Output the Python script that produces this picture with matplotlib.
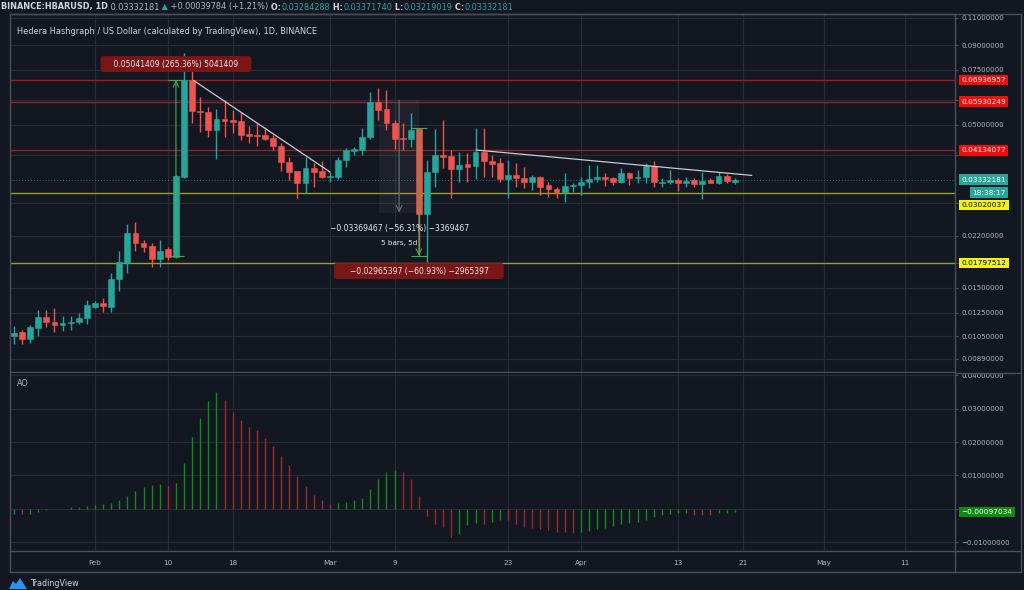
import matplotlib
matplotlib.use('Agg')
import matplotlib.pyplot as plt
import matplotlib.dates as mdates
import matplotlib.transforms as mtransforms
from matplotlib.lines import Line2D
from matplotlib.patches import Polygon
from matplotlib.ticker import FixedLocator, FixedFormatter, NullLocator
import numpy as np
import pandas as pd

# ---------------- data ----------------
dates = pd.date_range('2020-01-22', periods=90, freq='D')

opens = [0.01050, 0.01084, 0.01025, 0.01117, 0.01211, 0.01164, 0.01136, 0.01156, 0.01162, 0.01202,
         0.01304, 0.01340, 0.01304, 0.01604, 0.01805, 0.02241, 0.02082, 0.02041, 0.01850, 0.01992,
         0.01887, 0.03405, 0.06937, 0.05543, 0.05502, 0.04806, 0.05213, 0.05174, 0.05123, 0.04656,
         0.04633, 0.04621, 0.04541, 0.04281, 0.03794, 0.03550, 0.03241, 0.03639, 0.03550, 0.03388,
         0.03405, 0.03851, 0.04126, 0.04136, 0.04575, 0.05930, 0.05611, 0.05048, 0.04519, 0.04485,
         0.04829, 0.02579, 0.03525, 0.03996, 0.03966, 0.03594, 0.03729, 0.03684, 0.04095, 0.03823,
         0.03757, 0.03338, 0.03456, 0.03380, 0.03274, 0.03405, 0.03202, 0.03109, 0.03033, 0.03186,
         0.03194, 0.03266, 0.03338, 0.03405, 0.03380, 0.03282, 0.03507, 0.03380, 0.03397, 0.03684,
         0.03257, 0.03282, 0.03322, 0.03257, 0.03314, 0.03218, 0.03314, 0.03241, 0.03430, 0.03284288]
highs = [0.01130, 0.01098, 0.01139, 0.01278, 0.01278, 0.01288, 0.01217, 0.01217, 0.01248, 0.01370,
         0.01363, 0.01387, 0.01668, 0.01972, 0.02407, 0.02443, 0.02134, 0.02092, 0.02134, 0.02031,
         0.03447, 0.08505, 0.07577, 0.06117, 0.05709, 0.05611, 0.05997, 0.05570, 0.05502, 0.04950,
         0.05048, 0.04902, 0.04633, 0.04355, 0.03947, 0.03559, 0.03947, 0.03776, 0.03823, 0.03533,
         0.03947, 0.04197, 0.04249, 0.04866, 0.06378, 0.06536, 0.06457, 0.05174, 0.05048, 0.05435,
         0.04867, 0.03851, 0.04841, 0.05174, 0.04146, 0.04095, 0.04045, 0.04890, 0.04890, 0.03996,
         0.03899, 0.03851, 0.03757, 0.03666, 0.03447, 0.03422, 0.03282, 0.03163, 0.03490, 0.03257,
         0.03405, 0.03711, 0.03711, 0.03490, 0.03405, 0.03621, 0.03533, 0.03577, 0.03757, 0.03823,
         0.03363, 0.03577, 0.03363, 0.03405, 0.03363, 0.03533, 0.03380, 0.03533, 0.03473, 0.03371740]
lows = [0.00990, 0.00988, 0.00995, 0.01050, 0.01120, 0.01079, 0.01093, 0.01098, 0.01150, 0.01150,
        0.01295, 0.01257, 0.01257, 0.01468, 0.01668, 0.01972, 0.01958, 0.01752, 0.01752, 0.01841,
        0.01864, 0.03363, 0.05048, 0.04747, 0.04575, 0.03879, 0.04553, 0.04689, 0.04463, 0.04355,
        0.04270, 0.04463, 0.04146, 0.03559, 0.03322, 0.02902, 0.03011, 0.03163, 0.03363, 0.03282,
        0.03338, 0.03666, 0.03996, 0.03996, 0.04485, 0.05174, 0.04806, 0.04166, 0.04146, 0.04249,
        0.01901, 0.01818, 0.03163, 0.03621, 0.02902, 0.03282, 0.03282, 0.03338, 0.03405, 0.03405,
        0.03282, 0.02902, 0.03163, 0.03124, 0.03086, 0.02974, 0.02938, 0.02902, 0.02831, 0.03048,
        0.02974, 0.03124, 0.03282, 0.03178, 0.03202, 0.03241, 0.03202, 0.03241, 0.03241, 0.03163,
        0.03163, 0.03218, 0.03063, 0.03163, 0.03163, 0.02880, 0.03241, 0.03226, 0.03241, 0.03219019]
closes = [0.01076, 0.01025, 0.01125, 0.01211, 0.01167, 0.01136, 0.01159, 0.01164, 0.01199, 0.01320,
          0.01343, 0.01314, 0.01604, 0.01809, 0.02241, 0.02082, 0.02031, 0.01850, 0.01972, 0.01887,
          0.03422, 0.06937, 0.05543, 0.05489, 0.04806, 0.05200, 0.05148, 0.05086, 0.04645, 0.04610,
          0.04598, 0.04508, 0.04281, 0.03785, 0.03533, 0.03241, 0.03630, 0.03533, 0.03388, 0.03422,
          0.03851, 0.04136, 0.04166, 0.04575, 0.05930, 0.05570, 0.05048, 0.04508, 0.04485, 0.04818,
          0.02579, 0.03533, 0.03996, 0.03947, 0.03594, 0.03702, 0.03666, 0.04095, 0.03823, 0.03729,
          0.03338, 0.03456, 0.03363, 0.03274, 0.03405, 0.03163, 0.03101, 0.03033, 0.03186, 0.03210,
          0.03274, 0.03346, 0.03405, 0.03355, 0.03282, 0.03499, 0.03363, 0.03397, 0.03693, 0.03266,
          0.03282, 0.03322, 0.03257, 0.03306, 0.03218, 0.03306, 0.03257, 0.03422, 0.03306, 0.03332181]

ao_values = [-0.0015, -0.0016, -0.0015, -0.0010, -0.0005, -0.0002, -0.0001, 0.0004, 0.0006, 0.0008,
             0.0010, 0.0013, 0.0017, 0.0026, 0.0038, 0.0053, 0.0065, 0.0072, 0.0073, 0.0069,
             0.0076, 0.0138, 0.0214, 0.0271, 0.0322, 0.0351, 0.0326, 0.0290, 0.0265, 0.0245,
             0.0235, 0.0211, 0.0187, 0.0159, 0.0132, 0.0097, 0.0067, 0.0040, 0.0027, 0.0015,
             0.0016, 0.0019, 0.0025, 0.0031, 0.0060, 0.0089, 0.0109, 0.0115, 0.0109, 0.0090,
             0.0038, -0.0022, -0.0045, -0.0055, -0.0085, -0.0075, -0.0050, -0.0043, -0.0045, -0.0039,
             -0.0033, -0.0034, -0.0046, -0.0054, -0.0059, -0.0062, -0.0064, -0.0069, -0.0071, -0.0073,
             -0.0069, -0.0066, -0.0061, -0.0057, -0.0052, -0.0047, -0.0044, -0.0041, -0.0034, -0.0024,
             -0.0018, -0.0015, -0.0014, -0.0013, -0.0018, -0.0019, -0.0020, -0.0014, -0.0012, -0.00097034]

red_levels = [0.06936957, 0.05930249, 0.04134077]
yellow_levels = [0.03020037, 0.01797512]
last_price = 0.03332181
countdown = '18:38:17'

price_ticks = [0.11, 0.09, 0.075, 0.06, 0.05, 0.04, 0.028, 0.022, 0.018, 0.015, 0.0125, 0.0105, 0.0089]
price_tick_labels = ['0.11000000', '0.09000000', '0.07500000', '', '0.05000000', '', '', '0.02200000', '',
                     '0.01500000', '0.01250000', '0.01050000', '0.00890000']
ao_ticks = [0.04, 0.03, 0.02, 0.01, 0.0, -0.01]
ao_tick_labels = ['0.04000000', '0.03000000', '0.02000000', '0.01000000', '', '\u22120.01000000']

date_ticks = ['2020-02-01', '2020-02-10', '2020-02-18', '2020-03-01', '2020-03-09', '2020-03-23',
              '2020-04-01', '2020-04-13', '2020-04-21', '2020-05-01', '2020-05-11']
date_tick_labels = ['Feb', '10', '18', 'Mar', '9', '23', 'Apr', '13', '21', 'May', '11']

# drawings (trendlines and measurements)
trend1 = (['2020-02-13 05:00', '2020-03-01 00:00'], [0.0692, 0.0353])
trend2 = (['2020-03-19 02:00', '2020-04-22 02:00'], [0.04146, 0.03439])
pump_measure = ('2020-02-11', 0.018987, 0.06937, '0.05041409 (265.36%) 5041409')
crash_measure = ('2020-03-12', 0.04867, 0.01901, '\u22120.02965397 (\u221260.93%) \u22122965397')
range_measure = ('2020-03-07 02:00', '2020-03-12 01:00', 0.05984, 0.02614,
                 '\u22120.03369467 (\u221256.31%) \u22123369467', '5 bars, 5d')

# ---------------- style ----------------
W, H = 1024, 590
BG = '#131722'
GRID = '#262a35'
FRAME = '#4a4e59'
TXT = '#b2b5be'
TXT2 = '#d1d4dc'
GREEN = '#26a69a'
RED = '#ef5350'
plt.rcParams['font.family'] = ['DejaVu Sans']

fig = plt.figure(figsize=(W / 100, H / 100), dpi=100, facecolor=BG)


def fx(px):
    return px / W


def fy(py):
    return 1 - py / H


PL, PR = 10, 955
ax = fig.add_axes([fx(PL), fy(372), fx(PR - PL), (372 - 14) / H], facecolor=BG)
ax2 = fig.add_axes([fx(PL), fy(551), fx(PR - PL), (551 - 373) / H], facecolor=BG, sharex=ax)

x = mdates.date2num(dates)
o = np.array(opens); h = np.array(highs); l = np.array(lows); c = np.array(closes)
up = c >= o
cols = np.where(up, GREEN, RED)

ax.set_yscale('log')
base = mdates.date2num(pd.Timestamp('2020-02-01'))
ax.set_xlim(base - 10.49, base + 106.2)
ax.set_ylim(0.008058, 0.11314)

# grid
ax.yaxis.set_major_locator(FixedLocator(price_ticks))
ax.yaxis.set_major_formatter(FixedFormatter(price_tick_labels))
ax.yaxis.set_minor_locator(NullLocator())
ax.yaxis.set_minor_formatter(FixedFormatter([]))
ax.yaxis.tick_right()
tick_x = mdates.date2num(pd.to_datetime(date_ticks))
ax.xaxis.set_major_locator(FixedLocator(tick_x))
ax.xaxis.set_major_formatter(FixedFormatter(date_tick_labels))
ax.grid(True, color=GRID, lw=0.9, zorder=0)
ax.set_axisbelow(True)
ax.tick_params(axis='x', which='both', length=0, labelbottom=False)
ax.tick_params(axis='y', which='major', length=2.5, color=FRAME, labelcolor=TXT, labelsize=5, pad=2)

# horizontal levels
for lv in red_levels:
    ax.axhline(lv, color='#a01c1c', lw=1.0, zorder=1)
for lv in yellow_levels:
    ax.axhline(lv, color='#9c9c2c', lw=1.0, zorder=1)
ax.axhline(last_price, color=GREEN, lw=0.7, ls=(0, (1, 2)), alpha=0.7, zorder=1)

# range measure shading
r0, r1, rtop, rbot, rtxt, rtxt2 = range_measure
rx0 = mdates.date2num(pd.Timestamp(r0)); rx1 = mdates.date2num(pd.Timestamp(r1))
ax.fill_between([rx0, rx1], rbot, rtop, color='#787b86', alpha=0.11, lw=0, zorder=1.5)
rxm = (rx0 + rx1) / 2
ax.annotate('', xy=(rxm, rbot), xytext=(rxm, rtop),
            arrowprops=dict(arrowstyle='->', color='#6a6d78', lw=0.8, shrinkA=0, shrinkB=0), zorder=2)

# candles
ax.vlines(x, l, h, colors=cols, lw=1.0, zorder=3)
ax.bar(x, np.abs(c - o), bottom=np.minimum(o, c), width=0.72, color=cols, edgecolor=cols,
       linewidth=0.4, zorder=4)

# trendlines
for tl in (trend1, trend2):
    ax.plot(mdates.date2num(pd.to_datetime(tl[0])), tl[1], color='#c9cbd1', lw=0.9, zorder=5)

# pump measure
px_, pb, pt, ptxt = pump_measure
pxn = mdates.date2num(pd.Timestamp(px_))
MG = '#3fae49'
ax.annotate('', xy=(pxn, pt), xytext=(pxn, pb),
            arrowprops=dict(arrowstyle='->', color=MG, lw=0.8, shrinkA=0, shrinkB=0), zorder=6)
ax.hlines(pt, pxn - 1.04, pxn + 0.8, color=MG, lw=0.8, zorder=6)
ax.hlines(pb, pxn - 0.6, pxn + 1.0, color=MG, lw=0.8, zorder=6)
ax.text(pxn, 0.0782, '    ' + ptxt + '    ', ha='center', va='center', color='#e8e8ea', fontsize=5.5,
        bbox=dict(boxstyle='round,pad=0.45,rounding_size=0.3', fc='#7b1616', ec='none'), zorder=7)

# crash measure
cx_, ct, cb, ctxt = crash_measure
cxn = mdates.date2num(pd.Timestamp(cx_))
ax.annotate('', xy=(cxn, cb), xytext=(cxn, ct),
            arrowprops=dict(arrowstyle='->', color=MG, lw=0.8, shrinkA=0, shrinkB=0), zorder=6)
ax.hlines([ct, cb], cxn - 0.94, cxn + 1.0, color=MG, lw=0.8, zorder=6)
ax.text(cxn, 0.01697, '     ' + ctxt + '     ', ha='center', va='center', color='#e8e8ea', fontsize=5.5,
        bbox=dict(boxstyle='round,pad=0.45,rounding_size=0.3', fc='#7b1616', ec='none'), zorder=7)

ax.text(rxm, 0.0233, rtxt, ha='center', va='center', color='#e8e8ea', fontsize=5.5, zorder=7)
ax.text(rxm, 0.02086, rtxt2, ha='center', va='center', color='#e8e8ea', fontsize=5.2, zorder=7)

# price-scale labels
ylab = mtransforms.blended_transform_factory(ax.transAxes, ax.transData)
lx = 1 + 6.5 / (PR - PL)


def scale_label(axis, trans, y, text, fc, tc, dy=0, dx=0):
    tr = mtransforms.offset_copy(trans, fig=fig, x=dx, y=dy, units='dots')
    axis.text(lx, y, text, transform=tr, ha='left', va='center', fontsize=5.3, color=tc,
              bbox=dict(boxstyle='square,pad=0.3', fc=fc, ec='none'), clip_on=False, zorder=20)


for lv in red_levels:
    scale_label(ax, ylab, lv, f'{lv:.8f}', '#f20d0d', 'white')
scale_label(ax, ylab, last_price, f'{last_price:.8f}', GREEN, 'white')
scale_label(ax, ylab, last_price, countdown, GREEN, 'white', dy=-13, dx=11)
scale_label(ax, ylab, yellow_levels[0], f'{yellow_levels[0]:.8f}', '#f5f50a', 'black', dy=-12)
scale_label(ax, ylab, yellow_levels[1], f'{yellow_levels[1]:.8f}', '#f5f50a', 'black')

# ---------------- AO pane ----------------
aov = np.array(ao_values)
ao_up = np.concatenate([[True], aov[1:] >= aov[:-1]])
ao_cols = np.where(ao_up, '#0f8a12', '#9a2a2a')
ax2.set_ylim(-0.01269, 0.04071)
ax2.yaxis.set_major_locator(FixedLocator(ao_ticks))
ax2.yaxis.set_major_formatter(FixedFormatter(ao_tick_labels))
ax2.yaxis.tick_right()
ax2.grid(True, color=GRID, lw=0.9, zorder=0)
ax2.set_axisbelow(True)
ax2.vlines(x, 0, aov, colors=ao_cols, lw=1.0, zorder=3)
ax2.tick_params(axis='y', length=2.5, color=FRAME, labelcolor=TXT, labelsize=5, pad=2)
ax2.tick_params(axis='x', length=0, labelcolor=TXT, labelsize=5.2, pad=6.6)
ylab2 = mtransforms.blended_transform_factory(ax2.transAxes, ax2.transData)
scale_label(ax2, ylab2, ao_values[-1], '\u22120.00097034', '#0e8a0e', 'white')
ax2.text(0.0075, 0.94, 'AO', transform=ax2.transAxes, ha='left', va='center', color=TXT, fontsize=5.8)

for a in (ax, ax2):
    for s in a.spines.values():
        s.set_color(FRAME)
        s.set_linewidth(1.0)
ax2.spines['top'].set_visible(False)

# outer frame lines


def fline(x0, y0, x1, y1):
    fig.add_artist(Line2D([fx(x0), fx(x1)], [fy(y0), fy(y1)], transform=fig.transFigure,
                          color=FRAME, lw=1.0))


fline(PL, 14, 1021, 14)
fline(1021, 14, 1021, 572)
fline(PR, 372.5, 1021, 372.5)
fline(PR, 551, 1021, 551)
fline(PL, 572, 1021, 572)
fline(PL, 551, PL, 572)
fline(PR, 551, PR, 572)

# header texts
parts = [('BINANCE:HBARUSD, 1D', TXT2, 'bold'), (' 0.03332181', TXT, 'normal'), (' \u25b2', GREEN, 'normal'),
         (' +0.00039784 (+1.21%)', TXT, 'normal'), (' O:', TXT2, 'bold'), ('0.03284288', GREEN, 'normal'),
         (' H:', TXT2, 'bold'), ('0.03371740', GREEN, 'normal'), (' L:', TXT2, 'bold'),
         ('0.03219019', GREEN, 'normal'), (' C:', TXT2, 'bold'), ('0.03332181', GREEN, 'normal')]
prev = fig.text(fx(1), fy(7), parts[0][0], color=parts[0][1], fontweight=parts[0][2], fontsize=5.9,
                ha='left', va='center')
for s, col, wgt in parts[1:]:
    prev = ax.annotate(s, xy=(1, 0), xycoords=prev, xytext=(0, 0), textcoords='offset points',
                       ha='left', va='bottom', color=col, fontweight=wgt, fontsize=5.9,
                       annotation_clip=False)

fig.text(fx(17), fy(31), 'Hedera Hashgraph / US Dollar (calculated by TradingView), 1D, BINANCE',
         color=TXT2, fontsize=5.95, ha='left', va='center')

# TradingView logo
fig.add_artist(Polygon([[fx(9), fy(589)], [fx(13), fy(581)], [fx(16), fy(584)], [fx(20), fy(578)],
                        [fx(27), fy(589)]], closed=True, transform=fig.transFigure, fc='#2196f3', ec='none'))
fig.text(fx(30), fy(584), 'TradingView', color=TXT2, fontsize=5.8, ha='left', va='center')

fig.savefig('out.png', dpi=100, facecolor=BG)
